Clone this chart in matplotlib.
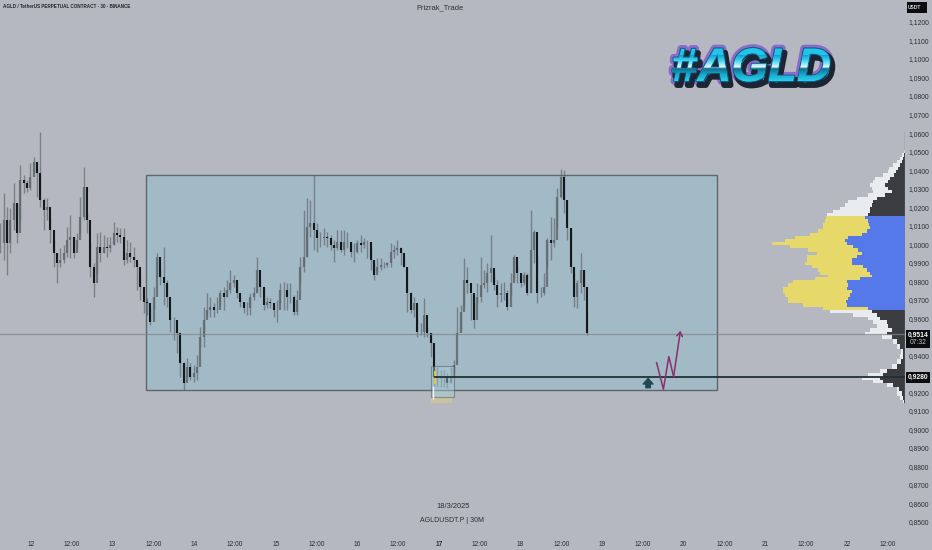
import numpy as np
import matplotlib
matplotlib.use('Agg')
import matplotlib.pyplot as plt
import matplotlib.patheffects as pe
from matplotlib.colors import LinearSegmentedColormap
from matplotlib.font_manager import FontProperties
from matplotlib.patches import PathPatch, Rectangle
from matplotlib.text import TextPath
from matplotlib.transforms import Affine2D

# hourly candles
closes = [1.0004,1.0130,1.0004,1.0130,1.0220,1.0058,1.0346,1.0328,1.0301,1.0364,1.0445,1.0382,1.0238,1.0184,1.0202,1.0076,
          0.9950,0.9896,0.9914,0.9950,1.0022,1.0040,0.9950,1.0022,1.0148,1.0310,1.0130,0.9878,0.9788,0.9986,0.9950,0.9986,
          0.9977,0.9995,1.0058,1.0049,1.0040,0.9914,0.9950,0.9932,0.9914,0.9878,0.9770,0.9689,0.9680,0.9581,0.9716,0.9932,
          0.9824,0.9788,0.9716,0.9590,0.9590,0.9518,0.9356,0.9248,0.9338,0.9284,0.9302,0.9338,0.9500,0.9590,0.9644,0.9662,
          0.9644,0.9644,0.9734,0.9716,0.9752,0.9788,0.9806,0.9734,0.9689,0.9653,0.9653,0.9716,0.9734,0.9860,0.9770,0.9671,
          0.9689,0.9680,0.9644,0.9644,0.9752,0.9752,0.9716,0.9716,0.9635,0.9698,0.9878,0.9932,1.0094,1.0112,
          1.0076,1.0031,1.0031,1.0040,1.0031,0.9995,0.9977,1.0013,0.9968,1.0013,1.0013,0.9959,0.9959,1.0004,0.9995,1.0013,
          1.0013,0.9914,0.9833,0.9878,0.9887,0.9887,0.9896,0.9959,0.9968,0.9977,0.9950,0.9878,0.9734,0.9644,0.9680,0.9527,
          0.9527,0.9617,0.9518,0.9464,0.9284,0.9284,0.9275,0.9284,0.9248,0.9275,0.9347,0.9518,0.9635,0.9806,0.9788,0.9734,
          0.9590,0.9716,0.9779,0.9788,0.9842,0.9869,0.9779,0.9725,0.9734,0.9734,0.9662,0.9788,0.9932,0.9842,0.9788,0.9833,
          0.9734,0.9968,1.0067,0.9734,0.9734,0.9770,1.0022,1.0004,1.0022,1.0256,1.0364,1.0238,1.0085,0.9878,0.9716,0.9788,
          0.9860,0.9770,0.9518]
lows = [0.9950,0.9914,0.9833,0.9950,1.0076,1.0004,1.0130,1.0274,1.0283,1.0292,1.0382,1.0256,1.0202,1.0076,1.0130,1.0004,
        0.9878,0.9788,0.9878,0.9896,0.9932,0.9923,0.9923,0.9986,1.0058,1.0130,1.0058,0.9824,0.9716,0.9842,0.9905,0.9950,
        0.9932,0.9959,0.9995,1.0013,1.0004,0.9887,0.9896,0.9905,0.9878,0.9752,0.9698,0.9626,0.9617,0.9563,0.9644,0.9824,
        0.9779,0.9671,0.9662,0.9527,0.9482,0.9410,0.9284,0.9212,0.9284,0.9266,0.9257,0.9266,0.9446,0.9446,0.9617,0.9608,
        0.9608,0.9626,0.9671,0.9644,0.9716,0.9734,0.9770,0.9707,0.9662,0.9626,0.9617,0.9617,0.9698,0.9734,0.9716,0.9644,
        0.9653,0.9653,0.9608,0.9581,0.9680,0.9644,0.9644,0.9680,0.9617,0.9617,0.9788,0.9851,0.9932,1.0040,
        0.9968,0.9959,0.9986,0.9995,0.9986,0.9968,0.9905,0.9968,0.9959,0.9941,0.9977,0.9932,0.9905,0.9950,0.9959,0.9977,
        0.9923,0.9860,0.9806,0.9851,0.9860,0.9869,0.9878,0.9878,0.9923,0.9941,0.9887,0.9878,0.9635,0.9626,0.9608,0.9500,
        0.9509,0.9500,0.9500,0.9392,0.9230,0.9230,0.9230,0.9230,0.9221,0.9248,0.9302,0.9509,0.9536,0.9662,0.9734,0.9590,
        0.9545,0.9680,0.9689,0.9761,0.9743,0.9797,0.9752,0.9662,0.9689,0.9698,0.9644,0.9725,0.9815,0.9788,0.9770,0.9779,
        0.9725,0.9734,0.9896,0.9680,0.9716,0.9725,0.9878,0.9914,0.9986,1.0094,1.0247,1.0166,1.0022,0.9842,0.9662,0.9653,
        0.9734,0.9698,0.9509]
highs = [1.0112,1.0274,1.0202,1.0193,1.0328,1.0220,1.0427,1.0373,1.0346,1.0436,1.0472,1.0409,1.0607,1.0247,1.0247,1.0139,
         1.0022,0.9950,0.9977,0.9995,1.0094,1.0157,1.0040,1.0058,1.0256,1.0418,1.0166,1.0004,0.9896,1.0058,1.0067,1.0049,
         1.0040,1.0040,1.0121,1.0094,1.0085,1.0085,1.0022,1.0013,0.9986,0.9896,0.9815,0.9707,0.9707,0.9662,0.9770,0.9950,
         0.9860,0.9986,0.9806,0.9608,0.9608,0.9536,0.9428,0.9365,0.9383,0.9356,0.9347,0.9401,0.9554,0.9662,0.9734,0.9716,
         0.9680,0.9716,0.9752,0.9770,0.9806,0.9860,0.9833,0.9788,0.9716,0.9680,0.9689,0.9734,0.9770,0.9932,0.9806,0.9770,
         0.9716,0.9707,0.9671,0.9698,0.9788,0.9797,0.9788,0.9788,0.9725,0.9752,0.9932,1.0184,1.0247,1.0238,
         1.0373,1.0112,1.0067,1.0085,1.0067,1.0049,1.0022,1.0076,1.0076,1.0076,1.0067,1.0013,1.0004,1.0022,1.0049,1.0031,
         1.0022,0.9977,0.9896,0.9923,0.9923,0.9905,0.9905,1.0004,0.9995,1.0022,0.9986,0.9932,0.9878,0.9743,0.9716,0.9608,
         0.9572,0.9707,0.9554,0.9518,0.9338,0.9338,0.9320,0.9320,0.9302,0.9338,0.9374,0.9662,0.9671,0.9923,0.9878,0.9734,
         0.9680,0.9788,0.9932,0.9860,0.9896,1.0049,0.9842,0.9806,0.9788,0.9797,0.9752,0.9842,0.9941,0.9887,0.9842,0.9851,
         0.9842,1.0184,1.0076,0.9932,0.9770,0.9842,1.0031,1.0148,1.0139,1.0301,1.0404,1.0400,1.0238,1.0085,0.9842,0.9806,
         0.9950,0.9860,0.9635]

# volume profile
vp_price = [1.0501,1.0481,1.0463,1.0445,1.0427,1.0409,1.0391,1.0373,1.0355,1.0337,1.0319,1.0301,1.0283,1.0265,1.0247,1.0229,
            1.0211,1.0193,1.0175,1.0161,1.0143,1.0125,1.0107,1.0089,1.0071,1.0053,1.0035,1.0022,1.0004,0.9986,0.9968,0.9950,
            0.9932,0.9914,0.9896,0.9878,0.9860,0.9842,0.9829,0.9815,0.9797,0.9779,0.9761,0.9743,0.9725,0.9707,0.9689,0.9671,
            0.9653,0.9635,0.9617,0.9599,0.9581,0.9554,0.9536,0.9518,0.9500,0.9473,0.9446,0.9419,0.9392,0.9365,0.9338,0.9316,
            0.9293,0.9275,0.9257,0.9239,0.9221,0.9194,0.9167,0.9149]
vp_total = [3,8,15,25,35,48,52,65,90,95,105,100,95,110,145,170,180,195,215,235,
            237,240,247,245,260,285,330,360,400,345,290,265,295,295,300,280,260,255,230,270,335,350,365,367,360,350,350,305,245,
            225,155,110,95,85,105,120,70,35,25,13,15,25,40,75,110,130,95,55,25,25,15,5]
vp_inner = [1,3,6,10,15,22,28,32,45,50,60,50,38,60,85,95,100,105,105,110,
            120,110,107,105,115,130,170,180,175,155,140,130,145,160,160,125,115,105,100,135,175,170,175,160,165,170,177,175,110,
            100,85,75,55,50,40,55,40,25,15,7,7,13,25,55,65,75,65,35,17,10,5,2]

day_labels = ['12', '13', '14', '15', '16', '17', '18', '19', '20', '21', '22']
price_ticks = [0.85 + 0.01 * i for i in range(28) if i not in (8, 10)]
last_price = 0.9514
level_price = 0.9280
zone_low, zone_high = 0.9212, 1.0373
zone_start, zone_end = 33.8, 201.8
entry_low, entry_high = 0.9172, 0.9341
entry_start, entry_end = 117.6, 124.5
va_low, va_high = 0.9640, 1.0150
plan_t = [184, 186, 187.6, 189, 191]
plan_p = [0.9359, 0.9216, 0.9392, 0.9284, 0.9532]

plt.rcParams['font.family'] = ['Liberation Sans', 'DejaVu Sans']

BG = '#b5b8c0'
W, H = 932, 550
fig = plt.figure(figsize=(W / 100, H / 100), dpi=100, facecolor=BG)
ax = fig.add_axes([0, 20 / H, 905 / W, 530 / H], facecolor=BG)
ax.set_xlim(-9.12, 257.06)
ax.set_ylim(0.8455, 1.1319)
for s in ax.spines.values():
    s.set_visible(False)

# zone box
ax.add_patch(Rectangle((zone_start, zone_low), zone_end - zone_start, zone_high - zone_low,
                       fc='#a2bac6', ec='#5c686d', lw=1, zorder=1))

# candles
closes = np.array(closes)
lows = np.array(lows)
highs = np.array(highs)
times = np.linspace(-9.0, 163.6, len(closes))
opens = np.concatenate([[closes[0]], closes[:-1]])
ax.vlines(times, lows, highs, color='#565c62', lw=1.0, alpha=0.6, zorder=3)
up = closes >= opens
ax.vlines(times[up], opens[up], closes[up], color='#5f676c', lw=1.6, alpha=0.85, zorder=4)
ax.vlines(times[~up], opens[~up], closes[~up], color='#12181b', lw=1.5, zorder=4)

# entry box and the marks around it
ax.add_patch(Rectangle((entry_start, 0.9140), entry_end - entry_start - 0.8, 0.0032,
                       fc='#c9c29a', lw=0, zorder=2))
ax.add_patch(Rectangle((entry_start, entry_low), entry_end - entry_start, entry_high - entry_low,
                       fc='#a9ccd4', ec='#3f4a4f', lw=0.8, alpha=0.45, zorder=5))
ax.vlines([118.3], 0.9165, 0.9235, color='#eef2f2', lw=1, zorder=6)
ax.vlines([118.9], 0.9245, 0.9315, color='#e8c93c', lw=1.4, zorder=6)

# volume profile
vp_price = np.array(vp_price)
vp_total = np.array(vp_total)
vp_inner = np.array(vp_inner)
vp_x = 257.06 - vp_total / 3 / 3.4
vp_x2 = 257.06 - vp_inner / 3 / 3.4
mid = (vp_price[:-1] + vp_price[1:]) / 2
edges = np.concatenate([[vp_price[0] + 0.001], mid, [vp_price[-1] - 0.001]])
vp_h = edges[:-1] - edges[1:]
va = (vp_price > va_low) & (vp_price < va_high)
ax.barh(edges[1:], vp_x2 - vp_x, left=vp_x, height=vp_h, align='edge',
        color=np.where(va, '#e6d869', '#e9ebee'), lw=0, zorder=8)
ax.barh(edges[1:], 257.06 - vp_x2, left=vp_x2, height=vp_h, align='edge',
        color=np.where(va, '#5579e8', '#3a3c40'), lw=0, zorder=8)
ax.axvline(257.0, ymin=(0.9130 - 0.8455) / (1.1319 - 0.8455), ymax=(1.0607 - 0.8455) / (1.1319 - 0.8455),
           color='#777b80', lw=1, zorder=9)

# horizontal levels
ax.axhline(last_price, color='#7f858a', lw=0.9, alpha=0.75, zorder=9)
ax.hlines(level_price, entry_start + 1, 257.06, color='#1f3236', lw=1.3, zorder=9)

# trade plan arrow
ax.plot(plan_t[:-1], plan_p[:-1], color='#8a2f6d', lw=1.1, zorder=10)
ax.annotate('', xy=(plan_t[-1], plan_p[-1]), xytext=(plan_t[-2], plan_p[-2]),
            arrowprops=dict(arrowstyle='->,head_width=0.2,head_length=0.3', color='#8a2f6d', lw=1.1,
                            shrinkA=0, shrinkB=0), zorder=10)
ax.annotate('', xy=(181.5, 0.9274), xytext=(181.5, 0.9224),
            arrowprops=dict(width=3.2, headwidth=7, headlength=4, color='#1e4a52', shrinkA=0, shrinkB=0), zorder=10)

# axis ticks
xt = []
xl = []
for i, d in enumerate(day_labels):
    xt += [24 * i, 24 * i + 12]
    xl += [d, '12:00']
ax.set_xticks(xt)
ax.set_xticklabels(xl, fontsize=4.8, color='#2c2f33')
ax.get_xticklabels()[10].set_fontweight('bold')
ax.tick_params(axis='x', length=0, pad=8)
ax.yaxis.tick_right()
ax.set_yticks(price_ticks)
ax.set_yticklabels([f'{p:.4f}'.replace('.', ',') for p in price_ticks], fontsize=4.9, color='#2c2f33')
ax.tick_params(axis='y', length=0, pad=2.5)

# price tags
def tag(y_top, y_bot, x0=906, x1=930):
    fig.patches.append(Rectangle((x0 / W, 1 - y_bot / H), (x1 - x0) / W, (y_bot - y_top) / H,
                                 transform=fig.transFigure, fc='#0b0c0e', lw=0, zorder=20))

tag(330, 348)
tag(372, 383)
tag(2, 13, 907, 927)
fig.text(918 / W, 1 - 335 / H, '0,9514', color='white', fontsize=4.9, weight='bold', ha='center', va='center', zorder=21)
fig.text(918 / W, 1 - 343 / H, '07:32', color='#c8c8c8', fontsize=4.9, ha='center', va='center', zorder=21)
fig.text(918 / W, 1 - 377.5 / H, '0,9280', color='white', fontsize=4.9, weight='bold', ha='center', va='center', zorder=21)
fig.text(914 / W, 1 - 7.5 / H, 'USDT', color='#d8d8d8', fontsize=3.6, weight='bold', ha='center', va='center', zorder=21)

# header and watermark texts
fig.text(3 / W, 1 - 7 / H, 'AGLD / TetherUS PERPETUAL CONTRACT · 30 · BINANCE', fontsize=3.3, weight='bold',
         color='#23262a', ha='left', va='center')
fig.text(440 / W, 1 - 8 / H, 'Prizrak_Trade', fontsize=5.4, color='#2c2f33', ha='center', va='center')
fig.text(453 / W, 1 - 506 / H, '18/3/2025', fontsize=5.4, color='#2c2f33', ha='center', va='center')
fig.text(452 / W, 1 - 521 / H, 'AGLDUSDT.P | 30M', fontsize=5, color='#2c2f33', ha='center', va='center')

# logo
logo_x, logo_base = 671, H - 81
logo_size = 34
fig.text(logo_x / W, logo_base / H, '#AGLD', fontsize=logo_size, family='Liberation Sans', weight='bold',
         style='italic', color='#22c4ea', ha='left', va='baseline', zorder=22, path_effects=[
             pe.Stroke(linewidth=5.5, foreground='#8a6cc8'),
             pe.Stroke(linewidth=4, foreground='#1c2533', offset=(2, -3)),
             pe.Stroke(linewidth=1.6, foreground='#0f5f86'),
             pe.Normal()])
fp = FontProperties(family='Liberation Sans', weight='bold', style='italic')
tp = TextPath((0, 0), '#AGLD', size=logo_size, prop=fp)
tr = Affine2D().scale(100 / 72).translate(logo_x, logo_base)
ax_logo = fig.add_axes([0, 0, 1, 1], zorder=23)
ax_logo.axis('off')
ax_logo.patch.set_alpha(0)
ax_logo.set_xlim(0, W)
ax_logo.set_ylim(0, H)
chrome = LinearSegmentedColormap.from_list('chrome', [
    (0.0, '#149fd0'), (0.18, '#3ad0ee'), (0.36, '#a8ecf8'), (0.44, '#f2fbff'), (0.5, '#0f6d8e'),
    (0.72, '#1aa7c8'), (1.0, '#2bd4f4')])
grad = ax_logo.imshow(np.linspace(0, 1, 64)[:, None], cmap=chrome, aspect='auto',
                      extent=(logo_x - 5, logo_x + 175, logo_base - 1, logo_base + 26), zorder=1)
clip = PathPatch(tp, transform=tr, fc='none', lw=0)
ax_logo.add_patch(clip)
grad.set_clip_path(clip)

fig.savefig('out.png', dpi=100, facecolor=BG)
